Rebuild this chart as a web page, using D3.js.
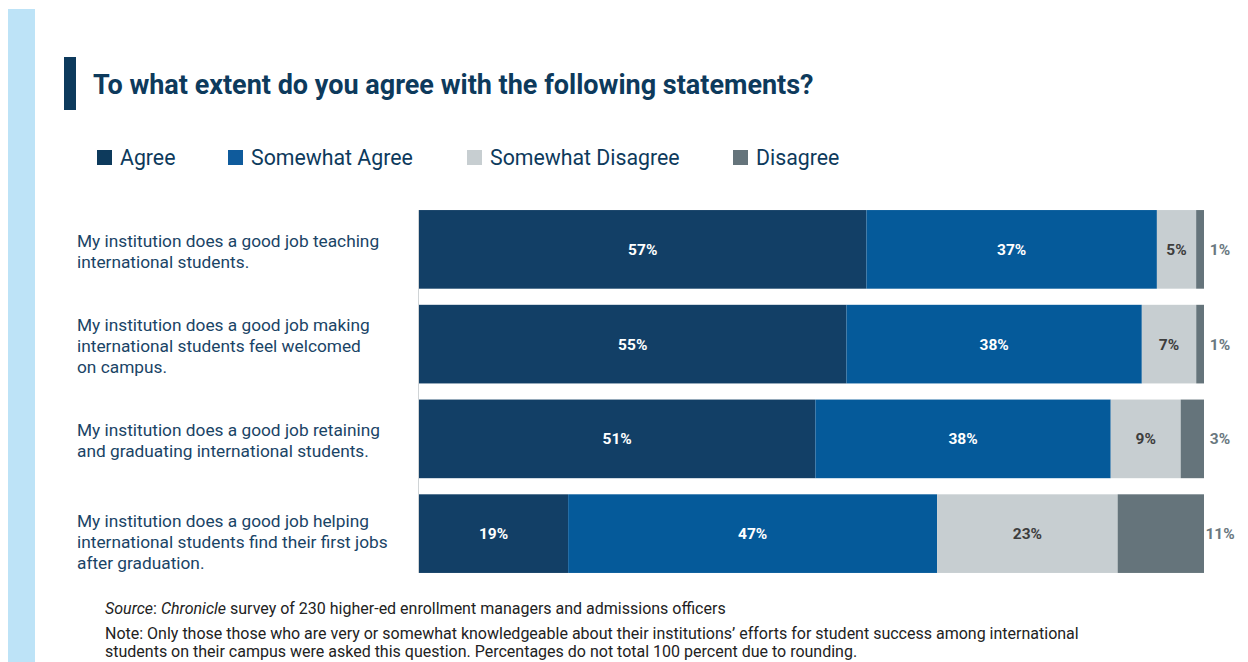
<!DOCTYPE html>
<html>
<head>
<meta charset="utf-8">
<script src="https://cdn.jsdelivr.net/npm/d3@7"></script>
<style>
  html, body { margin: 0; padding: 0; background: #fff; }
  svg { display: block; font-family: Roboto, "Noto Sans", sans-serif; }
</style>
</head>
<body>
<svg id="chart" width="1248" height="662"></svg>
<script>
// Survey statements (one row each), wrapped into display lines
const statements = [
  ["My institution does a good job teaching", "international students."],
  ["My institution does a good job making", "international students feel welcomed", "on campus."],
  ["My institution does a good job retaining", "and graduating international students."],
  ["My institution does a good job helping", "international students find their first jobs", "after graduation."]
];
const responses = ["Agree", "Somewhat Agree", "Somewhat Disagree", "Disagree"];
const agree            = [57, 55, 51, 19];
const somewhatAgree    = [37, 38, 38, 47];
const somewhatDisagree = [5, 7, 9, 23];
const disagree         = [1, 1, 3, 11];

const colors = ["#123f66", "#055a9a", "#c7ced1", "#65747b"];
const legendColors = ["#0d3a5c", "#0f5b9c", "#c7ced1", "#65747b"];
const labelColors = ["#ffffff", "#ffffff", "#3d3d3d", "#6a7880"];

const svg = d3.select("#chart");

// light side band
svg.append("rect").attr("x", 8).attr("y", 9).attr("width", 27).attr("height", 653).attr("fill", "#bde3f7");

// title with accent bar
svg.append("rect").attr("x", 64).attr("y", 57).attr("width", 12).attr("height", 53).attr("fill", "#0d3a5c");
svg.append("text").attr("x", 93).attr("y", 94)
  .attr("font-size", 27).attr("font-weight", 700).attr("fill", "#0d3a5c")
  .text("To what extent do you agree with the following statements?");

// legend
const legendX = [97, 228, 467, 733];
const legend = svg.append("g").selectAll("g").data(responses).join("g")
  .attr("transform", (d, i) => `translate(${legendX[i]},151)`);
legend.append("rect").attr("width", 15).attr("height", 15).attr("y", -1).attr("fill", (d, i) => legendColors[i]);
legend.append("text").attr("x", 23).attr("y", 14).attr("font-size", 21.3).attr("fill", "#0d3a5c").text(d => d);

// rows
const rows = statements.map((s, i) => ({
  lines: s,
  values: [agree[i], somewhatAgree[i], somewhatDisagree[i], disagree[i]]
}));

const y = d3.scaleBand().domain(d3.range(rows.length)).range([202, 581]).paddingInner(0.17).paddingOuter(0.085);
const x0 = 419, x1 = 1204;

const rowG = svg.append("g").selectAll("g").data(rows).join("g")
  .attr("transform", (d, i) => `translate(0,${y(i)})`);

rowG.each(function (row, i) {
  const g = d3.select(this);
  const total = d3.sum(row.values);
  const x = d3.scaleLinear().domain([0, total]).range([x0, x1]);
  let acc = 0;
  const segs = row.values.map((v, k) => { const s = { v, k, start: acc, end: acc + v }; acc += v; return s; });

  g.selectAll("rect").data(segs).join("rect")
    .attr("x", d => x(d.start)).attr("y", 0)
    .attr("width", d => x(d.end) - x(d.start))
    .attr("height", y.bandwidth())
    .attr("fill", d => colors[d.k]);

  g.selectAll("text.val").data(segs).join("text")
    .attr("class", "val")
    .attr("x", d => d.k === 3 ? x(d.end) + 16 : (x(d.start) + x(d.end)) / 2)
    .attr("y", y.bandwidth() / 2 + 5.5)
    .attr("text-anchor", "middle")
    .attr("font-size", 15.5).attr("font-weight", 700)
    .attr("fill", d => labelColors[d.k])
    .text(d => d.v + "%");

  const lh = 21;
  const n = row.lines.length;
  const shift = i === rows.length - 1 ? 8 : 2;
  g.append("text").attr("font-size", 17.3).attr("fill", "#1a4466")
    .selectAll("tspan").data(row.lines).join("tspan")
    .attr("x", 77)
    .attr("y", (d, j) => y.bandwidth() / 2 + (j - (n - 1) / 2) * lh + 6 + shift)
    .text(d => d);
});

// thin baseline at the start of the bars
svg.append("line").attr("x1", x0 - 0.5).attr("x2", x0 - 0.5)
  .attr("y1", y(0)).attr("y2", y(rows.length - 1) + y.bandwidth())
  .attr("stroke", "#d0d4d6").attr("stroke-width", 1);

// footnotes
const src = svg.append("text").attr("x", 105).attr("y", 614).attr("font-size", 16).attr("fill", "#222");
src.append("tspan").attr("font-style", "italic").text("Source");
src.append("tspan").text(": ");
src.append("tspan").attr("font-style", "italic").text("Chronicle");
src.append("tspan").text(" survey of 230 higher-ed enrollment managers and admissions officers");

const notes = [
  "Note: Only those those who are very or somewhat knowledgeable about their institutions\u2019 efforts for student success among international",
  "students on their campus were asked this question. Percentages do not total 100 percent due to rounding."
];
svg.append("g").selectAll("text").data(notes).join("text")
  .attr("x", 105).attr("y", (d, i) => 639 + i * 18)
  .attr("font-size", 16).attr("fill", "#222").text(d => d);
</script>
</body>
</html>
